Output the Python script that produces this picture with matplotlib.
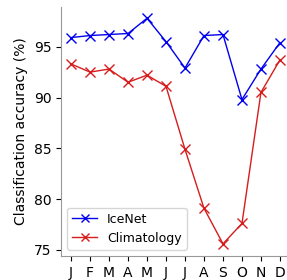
import matplotlib
matplotlib.use("Agg")
import matplotlib.pyplot as plt

months = ["J", "F", "M", "A", "M", "J", "J", "A", "S", "O", "N", "D"]
icenet = [95.9, 96.1, 96.2, 96.3, 97.8, 95.5, 92.9, 96.1, 96.2, 89.8, 92.8, 95.4]
climatology = [93.3, 92.5, 92.8, 91.5, 92.2, 91.1, 84.9, 79.1, 75.6, 77.6, 90.5, 93.7]

fig = plt.figure(figsize=(2.87, 2.80), dpi=100)
ax = fig.add_axes([0.2125, 0.0857, 0.796, 0.889])

x = range(len(months))
ax.plot(x, icenet, color="#0000ee", marker="x", markersize=7, linewidth=1, label="IceNet")
ax.plot(x, climatology, color="#d61c1c", marker="x", markersize=7, linewidth=1, label="Climatology")

ax.set_xticks(list(x))
ax.set_xticklabels(months)
ax.set_xlim(-0.53, 11.5)
ax.set_ylim(74.4, 98.9)
ax.set_yticks([75, 80, 85, 90, 95])
ax.set_ylabel("Classification accuracy (%)")
ax.spines["top"].set_visible(False)
ax.spines["right"].set_visible(False)
ax.spines["left"].set_color("0.6")
ax.spines["bottom"].set_color("0.6")
ax.legend(loc="lower left", fontsize=9, markerscale=0.8)

fig.savefig("out.png", dpi=100)
